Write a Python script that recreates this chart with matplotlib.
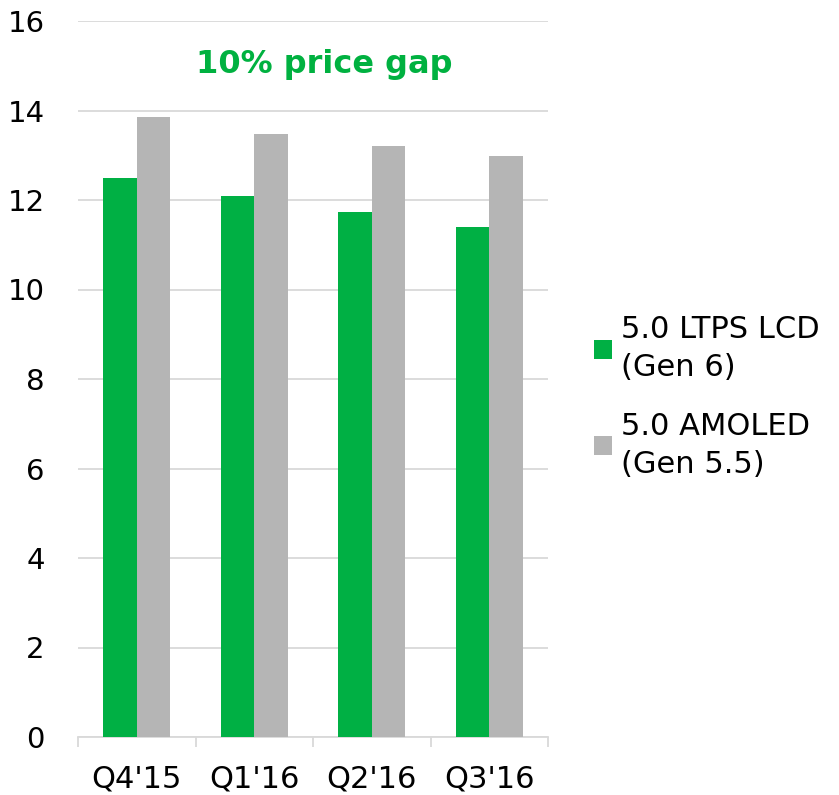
import numpy as np
import matplotlib
matplotlib.use("Agg")
import matplotlib.pyplot as plt

quarters = ["Q4'15", "Q1'16", "Q2'16", "Q3'16"]
ltps_lcd = [12.49, 12.10, 11.74, 11.39]
amoled = [13.86, 13.47, 13.21, 12.98]
series_names = ["5.0 LTPS LCD\n(Gen 6)", "5.0 AMOLED\n(Gen 5.5)"]
title_text = "10% price gap"

green = "#00B044"
grey = "#B5B5B5"
grid_col = "#D9D9D9"

plt.rcParams['font.family'] = ['DejaVu Sans']

fig = plt.figure(figsize=(8.39, 7.95), dpi=100)
ax = fig.add_axes([78 / 839, 58 / 795, 470 / 839, 716 / 795])

x = np.arange(len(quarters))
w = 0.285
b1 = ax.bar(x - w / 2, ltps_lcd, w, color=green, label=series_names[0], zorder=3)
b2 = ax.bar(x + w / 2, amoled, w, color=grey, label=series_names[1], zorder=3)

ax.set_xlim(-0.5, len(quarters) - 0.5)
ax.set_ylim(0, 16)
ax.set_yticks(np.arange(0, 17, 2))
ax.yaxis.grid(True, color=grid_col, linewidth=1.3, zorder=0)
ax.tick_params(axis='y', length=0, pad=24, labelsize=21)

ax.set_xticks(x)
ax.set_xticklabels(quarters)
ax.set_xticks(np.arange(-0.5, len(quarters)), minor=True)
ax.tick_params(axis='x', which='major', length=0, pad=20, labelsize=22)
ax.tick_params(axis='x', which='minor', length=7.2, width=1.3, color=grid_col)

for s in ['top', 'right', 'left']:
    ax.spines[s].set_visible(False)
ax.spines['bottom'].set_color(grid_col)
ax.spines['bottom'].set_linewidth(1.3)

fig.text(324 / 839, (795 - 73) / 795, title_text, color="#00B140",
         fontsize=23, fontweight='bold', ha='center', va='baseline')

leg = fig.legend(handles=[b1, b2], loc='center left',
                 bbox_to_anchor=(594 / 839, (795 - 397) / 795),
                 frameon=False, fontsize=22, borderpad=0, borderaxespad=0,
                 handlelength=0.58, handleheight=0.58, handletextpad=0.3,
                 labelspacing=0.95)
for t in leg.get_texts():
    t.set_linespacing(1.4)

fig.savefig("out.png", dpi=100)
